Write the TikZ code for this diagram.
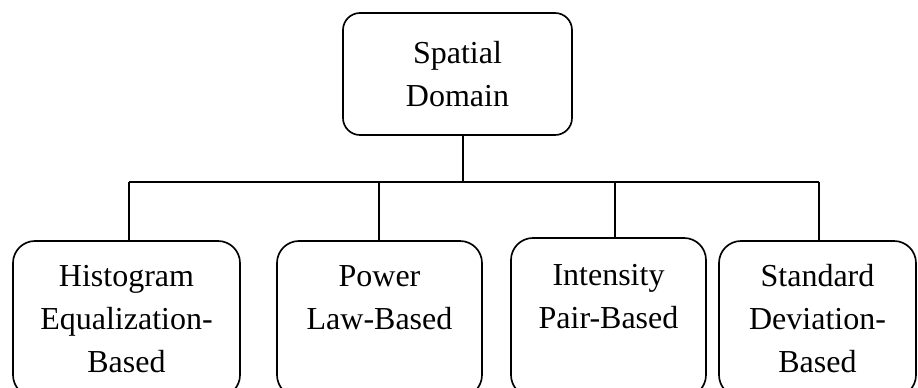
\documentclass[tikz,border=0pt]{standalone}
\usepackage{fontspec}
\setmainfont{Liberation Serif}
\begin{document}
\begin{tikzpicture}[x=0.75pt,y=-0.75pt,
  box/.style={draw, line width=1.25pt, rounded corners=16.5pt, align=center,
    inner sep=0pt, font=\fontsize{24}{32.25}\selectfont},
  link/.style={line width=1.25pt}]
\useasboundingbox (0,0) rectangle (918,388);
\clip (0,0) rectangle (918,388);

% root
\node[box, rounded corners=12.75pt, minimum width=171.75pt, minimum height=91.5pt]
  (top) at (457.5,74) {Spatial\\Domain};

% leaves
\node[box, minimum width=170.25pt, minimum height=117pt]
  (b1) at (126.5,319) {Histogram\\Equalization-\\Based};
\node[box, minimum width=153.75pt, minimum height=117pt]
  (b2) at (379.5,319) {Power\\Law-Based\\\mbox{}};
\node[box, minimum width=146.25pt, minimum height=119.25pt]
  (b3) at (608.5,317.5) {Intensity\\Pair-Based\\\mbox{}};
\node[box, minimum width=147.75pt, minimum height=117pt]
  (b4) at (817.5,319) {Standard\\Deviation-\\Based};

% bus
\coordinate (j) at (463,182);
\coordinate (d1) at (129,182);
\coordinate (d2) at (379,182);
\coordinate (d3) at (615,182);
\coordinate (d4) at (819,182);

\draw[link] (top.south -| j) -- (j);
\draw[link] (d1) -- (d4);
\foreach \i in {1,...,4}
  \draw[link] (d\i) -- (b\i.north -| d\i);
\end{tikzpicture}
\end{document}
